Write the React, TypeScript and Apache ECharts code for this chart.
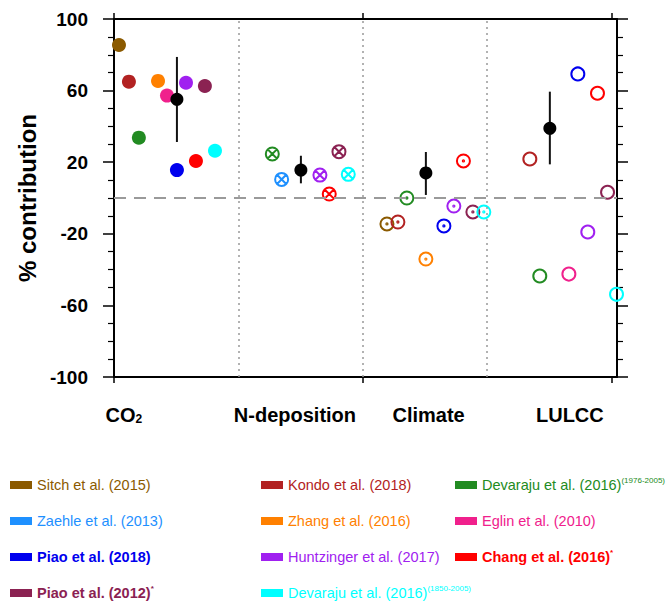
import React, { useEffect, useRef } from "react";
import * as echarts from "echarts";

// ---------- data ----------
const studies = [
  "Sitch et al. (2015)",
  "Kondo et al. (2018)",
  "Devaraju et al. (2016)(1976-2005)",
  "Zaehle et al. (2013)",
  "Zhang et al. (2016)",
  "Eglin et al. (2010)",
  "Piao et al. (2018)",
  "Huntzinger et al. (2017)",
  "Chang et al. (2016)*",
  "Piao et al. (2012)*",
  "Devaraju et al. (2016)(1850-2005)",
];
const studyColors = [
  "#8B5A00", "#B22222", "#228B22", "#1E90FF", "#FF8000", "#F0208C",
  "#0000EE", "#A020F0", "#FF0000", "#8B2252", "#00FFFF",
];
const boldStudies = [false, false, false, false, false, false, true, false, true, true, false];

// CO2 driver (filled circles)
const co2X = [0.04, 0.12, 0.2, null, 0.354, 0.426, 0.506, 0.579, 0.659, 0.731, 0.812];
const co2Y = [85.5, 65.0, 33.7, null, 65.4, 57.2, 15.6, 64.4, 20.7, 62.6, 26.4];
// N-deposition driver (crossed circles)
const ndepX = [null, null, 1.273, 1.348, null, null, null, 1.656, 1.731, 1.809, 1.884];
const ndepY = [null, null, 24.6, 10.4, null, null, null, 12.8, 2.2, 25.9, 13.2];
// Climate driver (dotted circles)
const climX = [2.195, 2.283, 2.355, null, 2.508, null, 2.653, 2.733, 2.81, 2.886, 2.974];
const climY = [-14.5, -13.4, 0.0, null, -34.1, null, -15.6, -4.5, 20.7, -7.8, -7.8];
// LULCC driver (open circles)
const luX = [null, 3.344, 3.424, null, null, 3.658, 3.73, 3.81, 3.888, 3.969, 4.041];
const luY = [null, 21.8, -43.6, null, null, -42.5, 69.3, -19.0, 58.5, 3.2, -53.8];

// ensemble means with ranges
const meanX = [0.506, 1.503, 2.508, 3.505];
const meanY = [55.1, 15.6, 14.0, 38.9];
const meanLow = [31.3, 8.2, 1.7, 18.8];
const meanHigh = [78.8, 23.6, 25.7, 59.4];

const categories = ["CO2", "N-deposition", "Climate", "LULCC"];
const categoryLabelX = [0.08, 1.455, 2.53, 3.666];
const separators = [1, 2, 3];

const legendColumns = [
  [0, 3, 6, 9],
  [1, 4, 7, 10],
  [2, 5, 8],
];

// ---------- styling ----------
const FONT = "'Liberation Sans', Arial, Helvetica, sans-serif";
const CROSS_PATH =
  "path://M0,10A10,10,0,1,1,20,10A10,10,0,1,1,0,10ZM2.93,2.93L17.07,17.07M17.07,2.93L2.93,17.07";
const DOT_PATH =
  "path://M0,10A10,10,0,1,1,20,10A10,10,0,1,1,0,10ZM9,10A1,1,0,1,1,11,10A1,1,0,1,1,9,10Z";

export default function App() {
  const ref = useRef<HTMLDivElement>(null);

  useEffect(() => {
    if (!ref.current) return;
    const chart = echarts.init(ref.current, null, { renderer: "svg" });

    const groups = [
      { xs: co2X, ys: co2Y, kind: "filled" },
      { xs: ndepX, ys: ndepY, kind: "cross" },
      { xs: climX, ys: climY, kind: "dot" },
      { xs: luX, ys: luY, kind: "open" },
    ];

    const studySeries = studies.map((name, i) => {
      const c = studyColors[i];
      const data: any[] = [];
      groups.forEach((g) => {
        const x = g.xs[i];
        const y = g.ys[i];
        if (x == null || y == null) return;
        if (g.kind === "filled") {
          data.push({
            value: [x, y],
            symbol: "circle",
            symbolSize: 14,
            itemStyle: { color: c, borderWidth: 0, opacity: 1 },
          });
        } else {
          const symbol = g.kind === "cross" ? CROSS_PATH : g.kind === "dot" ? DOT_PATH : "circle";
          data.push({
            value: [x, y],
            symbol,
            symbolSize: 13,
            itemStyle: { color: "rgba(0,0,0,0)", borderColor: c, borderWidth: 2, opacity: 1 },
          });
        }
      });
      return {
        type: "scatter",
        name,
        z: 3,
        silent: true,
        emphasis: { disabled: true },
        itemStyle: { color: c, opacity: 1 },
        data,
      };
    });

    const legendRich: any = {};
    studies.forEach((_, i) => {
      legendRich["s" + i] = {
        color: studyColors[i],
        fontSize: 14.5,
        fontFamily: FONT,
        fontWeight: boldStudies[i] ? "bold" : "normal",
        lineHeight: 18,
      };
      legendRich["p" + i] = {
        color: studyColors[i],
        fontSize: 8,
        fontFamily: FONT,
        fontWeight: boldStudies[i] ? "bold" : "normal",
        lineHeight: 10,
        verticalAlign: "top",
      };
    });
    const legendFormatter = (name: string) => {
      const i = studies.indexOf(name);
      const m = name.match(/^(.*?\(\d{4}\))(.*)$/);
      const base = m ? m[1] : name;
      const sup = m ? m[2] : "";
      return sup ? `{s${i}|${base}}{p${i}|${sup}}` : `{s${i}|${base}}`;
    };
    const legendLeft = [10, 261, 455];

    const xLabelFormatter = (v: number) => {
      const idx = categoryLabelX.findIndex((p) => Math.abs(p - v) < 1e-6);
      if (idx < 0) return "";
      const name = categories[idx];
      if (name === "CO2") return "{b|CO}{sub|2}";
      return "{b|" + name + "}";
    };

    const axisLineStyle = { color: "#000", width: 2 };

    const option: any = {
      animation: false,
      backgroundColor: "#fff",
      grid: { left: 114, right: 54, top: 19, bottom: 226, containLabel: false },
      legend: legendColumns.map((col, k) => ({
        orient: "vertical",
        left: legendLeft[k],
        top: 476,
        padding: 0,
        itemWidth: 22,
        itemHeight: 8,
        itemGap: 18,
        icon: "rect",
        selectedMode: false,
        itemStyle: { borderWidth: 0, opacity: 1 },
        data: col.map((i) => studies[i]),
        formatter: legendFormatter,
        textStyle: { fontSize: 14.5, lineHeight: 18, fontFamily: FONT, rich: legendRich },
      })),
      xAxis: [
        {
          type: "value",
          min: 0,
          max: 4.045,
          position: "bottom",
          axisLine: { show: true, onZero: false, lineStyle: axisLineStyle },
          axisTick: { show: true, customValues: [0, 2, 4], length: 6, lineStyle: { color: "#000", width: 1.5 } },
          axisLabel: {
            show: true,
            customValues: categoryLabelX,
            formatter: xLabelFormatter,
            margin: 28,
            rich: {
              b: { fontSize: 20, fontWeight: "bold", color: "#000", fontFamily: FONT },
              sub: { fontSize: 12, fontWeight: "bold", color: "#000", fontFamily: FONT, verticalAlign: "bottom", padding: [8, 0, 0, 0] },
            },
          },
          splitLine: { show: false },
        },
        {
          type: "value",
          min: 0,
          max: 4.045,
          position: "top",
          axisLine: { show: true, onZero: false, lineStyle: axisLineStyle },
          axisTick: { show: true, customValues: [0, 2, 4], length: 6, lineStyle: { color: "#000", width: 1.5 } },
          axisLabel: { show: false },
          splitLine: { show: false },
        },
      ],
      yAxis: [
        {
          type: "value",
          min: -100,
          max: 100,
          interval: 40,
          position: "left",
          axisLine: { show: true, onZero: false, lineStyle: axisLineStyle },
          axisTick: { show: true, length: 11, lineStyle: { color: "#000", width: 1.5 } },
          minorTick: { show: true, splitNumber: 4, length: 6, lineStyle: { color: "#000", width: 1.2 } },
          axisLabel: { fontSize: 19, fontWeight: "bold", color: "#000", margin: 26, fontFamily: FONT },
          splitLine: { show: false },
          name: "% contribution",
          nameLocation: "middle",
          nameGap: 74,
          nameTextStyle: { fontSize: 24, fontWeight: "bold", color: "#000", fontFamily: FONT },
        },
        {
          type: "value",
          min: -100,
          max: 100,
          interval: 40,
          position: "right",
          axisLine: { show: true, onZero: false, lineStyle: axisLineStyle },
          axisTick: { show: true, length: 11, lineStyle: { color: "#000", width: 1.5 } },
          minorTick: { show: true, splitNumber: 4, length: 6, lineStyle: { color: "#000", width: 1.2 } },
          axisLabel: { show: false },
          splitLine: { show: false },
        },
      ],
      series: [
        {
          type: "scatter",
          name: "guides",
          z: 1,
          silent: true,
          data: [],
          markLine: {
            silent: true,
            symbol: ["none", "none"],
            label: { show: false },
            animation: false,
            data: [
              ...separators.map((x) => ({ xAxis: x, lineStyle: { type: [2, 4], color: "#999", width: 1.5 } })),
              { yAxis: 0, lineStyle: { type: [12, 8], color: "#9a9a9a", width: 2 } },
            ],
          },
        },
        ...studySeries,
        {
          type: "custom",
          name: "range",
          z: 4,
          silent: true,
          data: meanX.map((x, i) => [x, meanLow[i], meanHigh[i]]),
          encode: { x: 0, y: [1, 2] },
          renderItem: (params: any, api: any) => {
            const p1 = api.coord([api.value(0), api.value(1)]);
            const p2 = api.coord([api.value(0), api.value(2)]);
            return {
              type: "line",
              shape: { x1: p1[0], y1: p1[1], x2: p2[0], y2: p2[1] },
              style: { stroke: "#111", lineWidth: 2 },
            };
          },
        },
        {
          type: "scatter",
          name: "mean",
          z: 5,
          silent: true,
          symbol: "circle",
          symbolSize: 13,
          itemStyle: { color: "#000", opacity: 1 },
          data: meanX.map((x, i) => [x, meanY[i]]),
        },
      ],
    };

    chart.setOption(option);
    return () => chart.dispose();
  }, []);

  return (
    <div
      ref={ref}
      style={{ position: "absolute", left: 0, top: 0, width: 671, height: 603, background: "#fff" }}
    />
  );
}
